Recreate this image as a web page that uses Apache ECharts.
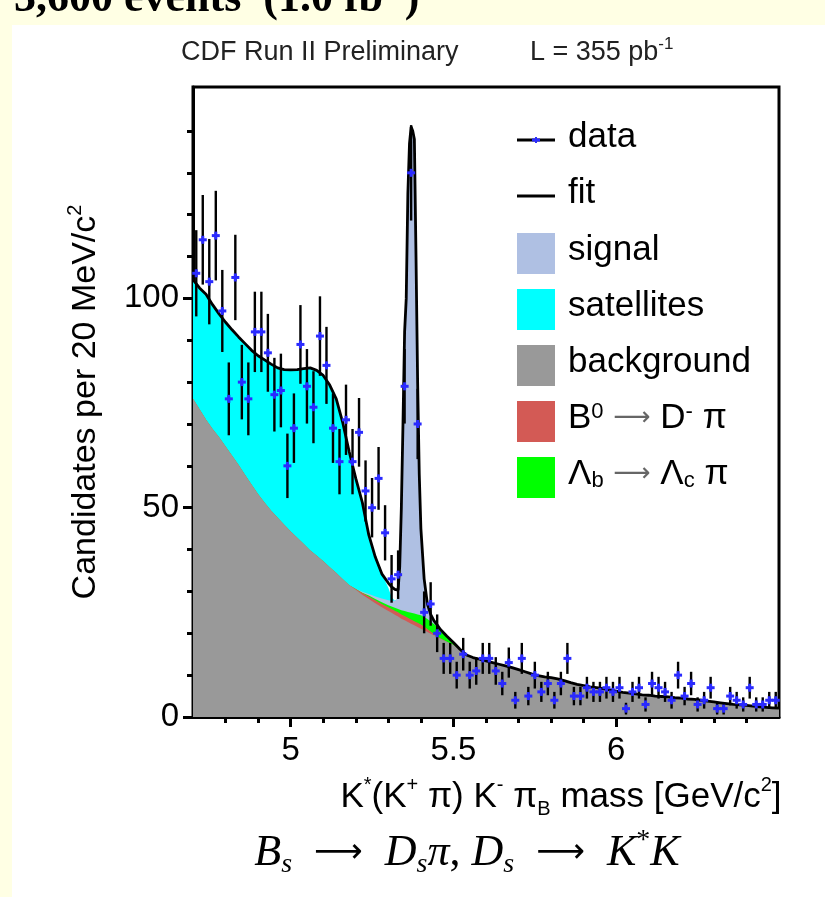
<!DOCTYPE html>
<html><head><meta charset="utf-8">
<script src="https://cdn.jsdelivr.net/npm/echarts@6/dist/echarts.min.js"></script>
<style>
html,body{margin:0;padding:0;background:#FFFFE4;}
#c{position:absolute;left:0;top:0;width:825px;height:897px;}
</style>
</head><body><div id="c"></div>
<script>
// ---- histogram binning of the data (20 MeV bins starting at 4.70 GeV) ----
const binLow = 4.70, binWidth = 0.02;
// data counts per bin
const dataCounts = [106,114,104,115,97,76,105,80,76,92,
  92,87,77,78,60,69,89,79,74,91,
  84,69,61,71,61,68,54,50,57,44,
  33,34,79,130,70,25,27,20,14,14,
  10,15,10,11,14,14,11,8,13,4,
  14,5,10,6,8,4,8,14,5,5,
  7,6,6,7,6,7,2,6,7,3,
  8,7,6,4,10,5,8,3,4,7,
  2,2,5,4,3,7,3,3,4,4];
// error bar half-lengths
const dataErrors = [10.3,10.7,10.2,10.7,9.8,8.7,10.2,8.9,8.7,9.6,
  9.6,9.3,8.8,8.8,7.7,8.3,9.4,8.9,8.6,9.5,
  9.2,8.3,7.8,8.4,7.8,8.2,7.3,7.1,7.5,6.6,
  5.7,5.8,8.9,11.4,8.4,5.0,5.2,4.5,3.7,3.7,
  3.2,3.9,3.2,3.3,3.7,3.7,3.3,2.8,3.6,2.0,
  3.7,2.2,3.2,2.4,2.8,2.0,2.8,3.7,2.2,2.2,
  2.6,2.4,2.4,2.6,2.4,2.6,1.4,2.4,2.6,1.7,
  2.8,2.6,2.4,2.0,3.2,2.2,2.8,1.7,2.0,2.6,
  1.4,1.4,2.2,2.0,1.7,2.6,1.7,1.7,2.0,2.0];

// ---- fit curve sample positions and components ----
const fitX = [4.70,4.72,4.74,4.76,4.78,4.80,4.82,4.84,4.86,4.88,
  4.90,4.92,4.94,4.96,4.98,5.00,5.02,5.04,5.06,5.08,
  5.10,5.12,5.14,5.16,5.18,5.20,5.22,5.24,5.26,5.28,
  5.30,5.31,5.32,5.33,5.335,5.34,5.345,5.35,5.355,5.36,
  5.365,5.37,5.375,5.38,5.385,5.39,5.395,5.40,5.41,5.42,
  5.43,5.44,5.45,5.46,5.48,5.50,5.52,5.54,5.56,5.58,
  5.60,5.62,5.64,5.66,5.68,5.70,5.72,5.74,5.76,5.78,
  5.80,5.82,5.84,5.86,5.88,5.90,5.92,5.94,5.96,5.98,
  6.00,6.02,6.04,6.06,6.08,6.10,6.12,6.14,6.16,6.18,
  6.20,6.22,6.24,6.26,6.28,6.30,6.32,6.34,6.36,6.38,
  6.40,6.42,6.44,6.46,6.48,6.50];
const fitTotal = [104.5,102.5,101,98.5,96.3,94.3,92.5,90.8,89.2,87.6,
  86.3,85.3,84.3,83.4,83,82.9,83,83.2,83.4,82.8,
  81.6,79.3,76,70.3,63.3,57,51.3,43.5,38.2,34.2,
  32,31.1,30.5,30.3,36,50,70,92,100,125,
  137,141,140,138,110,80,58,45,33,27,
  24.5,23,22,20.9,19.3,17.8,16.2,14.8,14.2,13.8,
  13.4,13.0,12.6,12.2,11.8,11.3,10.8,10.3,9.9,9.6,
  9.4,9.1,8.7,8.2,7.8,7.5,7.2,7.0,6.8,6.5,
  6.2,5.9,5.7,5.5,5.3,5.2,5.0,4.9,4.8,4.6,
  4.5,4.3,4.2,4.0,3.8,3.6,3.4,3.2,3.0,2.9,
  2.8,2.6,2.4,2.3,2.2,2.1];
const background = [76,73.5,71,68.8,66.8,64.6,62.4,60.2,57.8,55.5,
  53.2,51.2,49.3,47.6,45.9,44.3,42.8,41.3,39.8,38.5,
  37.2,35.8,34.4,32.9,31.5,30.4,29.2,28.2,27.2,26.2,
  25.3,24.9,24.4,24.0,23.8,23.5,23.3,23.1,22.9,22.7,
  22.5,22.3,22.1,21.9,21.7,21.5,21.3,21.1,20.7,20.3,
  19.9,19.5,19.1,18.7,18.0,17.2,16.0,14.8,14.2,13.8,
  13.4,13.0,12.6,12.2,11.8,11.3,10.8,10.3,9.9,9.6,
  9.4,9.1,8.7,8.2,7.8,7.5,7.2,7.0,6.8,6.5,
  6.2,5.9,5.7,5.5,5.3,5.2,5.0,4.9,4.8,4.6,
  4.5,4.3,4.2,4.0,3.8,3.6,3.4,3.2,3.0,2.9,
  2.8,2.6,2.4,2.3,2.2,2.1];
const b0DPi = [0,0,0,0,0,0,0,0,0,0,
  0,0,0,0,0,0,0,0,0,0,
  0,0,0,0,0,0.2,0.4,0.6,0.7,0.8,
  0.9,0.9,1.0,1.0,1.0,1.0,1.0,1.0,1.0,1.0,
  1.0,1.0,1.0,1.0,1.0,1.0,1.0,1.0,0.9,0.7,
  0.5,0.3,0.2,0.1,0,0,0,0,0,0,
  0,0,0,0,0,0,0,0,0,0,
  0,0,0,0,0,0,0,0,0,0,
  0,0,0,0,0,0,0,0,0,0,
  0,0,0,0,0,0,0,0,0,0,
  0,0,0,0,0,0];
const lambdaB = [0,0,0,0,0,0,0,0,0,0,
  0,0,0,0,0,0,0,0,0,0,
  0,0,0,0,0,0,0.1,0.2,0.3,0.4,
  0.5,0.6,0.7,0.8,0.9,1.0,1.1,1.2,1.3,1.4,
  1.5,1.6,1.7,1.8,1.9,2.0,2.1,2.2,2.3,2.4,
  2.4,2.4,2.3,2.1,1.3,0.6,0.2,0,0,0,
  0,0,0,0,0,0,0,0,0,0,
  0,0,0,0,0,0,0,0,0,0,
  0,0,0,0,0,0,0,0,0,0,
  0,0,0,0,0,0,0,0,0,0,
  0,0,0,0,0,0];
const signal = [0,0,0,0,0,0,0,0,0,0,
  0,0,0,0,0,0,0,0,0,0,
  0,0,0,0,0,0,0.2,0.4,0.6,0.9,
  1.2,1.4,1.7,2.5,10.3,24.5,44.6,66.7,74.8,99.9,
  112.0,116.1,115.2,113.3,85.4,55.5,33.6,20.7,9.1,3.6,
  1.7,0.8,0.4,0,0,0,0,0,0,0,
  0,0,0,0,0,0,0,0,0,0,
  0,0,0,0,0,0,0,0,0,0,
  0,0,0,0,0,0,0,0,0,0,
  0,0,0,0,0,0,0,0,0,0,
  0,0,0,0,0,0];
const satellites = [28.5,29,30,29.7,29.5,29.7,30.1,30.6,31.4,32.1,
  33.1,34.1,35,35.8,37.1,38.6,40.2,41.9,43.6,44.3,
  44.4,43.5,41.6,37.4,31.8,26.4,21.4,14.1,9.4,5.9,
  3.0,0.8,0,0,0,0,0,0,0,0,
  0,0,0,0,0,0,0,0,0,0,
  0,0,0,0,0,0,0,0,0,0,
  0,0,0,0,0,0,0,0,0,0,
  0,0,0,0,0,0,0,0,0,0,
  0,0,0,0,0,0,0,0,0,0,
  0,0,0,0,0,0,0,0,0,0,
  0,0,0,0,0,0];

// ---- axes ticks ----
const xMajorTicks = [5, 5.5, 6];
const xMinorTicks = [4.8,4.9,5.1,5.2,5.3,5.4,5.6,5.7,5.8,5.9,6.1,6.2,6.3,6.4];
const yMajorTicks = [0, 50, 100];
const yMinorTicks = [10,20,30,40,60,70,80,90,110,120,130,140];

const SANS = '"Liberation Sans", Arial, Helvetica, sans-serif';
const SERIF = '"Liberation Serif", "Times New Roman", serif';

const dataPoints = dataCounts.map((n, k) => [binLow + binWidth * (k + 0.5), n, dataErrors[k]]);

// stack components (bottom to top) by cumulative sums, drawn as filled areas from 0
const components = [
  {name: 'background', values: background, color: '#999999'},
  {name: 'B0', values: b0DPi, color: '#D35A55'},
  {name: 'Lb', values: lambdaB, color: '#00FF00'},
  {name: 'signal', values: signal, color: '#AFC0E3'},
  {name: 'satellites', values: satellites, color: '#00FFFF'}
];
let running = fitX.map(() => 0);
const cumulative = components.map(c => {
  running = running.map((v, i) => v + c.values[i]);
  return {name: c.name, color: c.color, values: running.slice()};
});
const areaSeries = cumulative.slice().reverse().map(c => ({
  name: c.name, type: 'line', data: fitX.map((x, i) => [x, c.values[i]]),
  symbol: 'none', silent: true, z: 2,
  lineStyle: {width: 0}, itemStyle: {color: c.color},
  areaStyle: {color: c.color, opacity: 1, origin: 'start'}
}));

const chart = echarts.init(document.getElementById('c'), null, {renderer: 'canvas'});

const supS = {fontFamily: SANS, fontSize: 20, lineHeight: 20, verticalAlign: 'top', color: '#000'};
const subS = {fontFamily: SANS, fontSize: 20, lineHeight: 22, verticalAlign: 'bottom', color: '#000'};

const legendRows = [
  {kind: 'data', y: 140, text: 'data'},
  {kind: 'fit', y: 196, text: 'fit'},
  {kind: 'box', y: 253, color: '#AFC0E3', text: 'signal'},
  {kind: 'box', y: 309, color: '#00FFFF', text: 'satellites'},
  {kind: 'box', y: 365, color: '#999999', text: 'background'},
  {kind: 'box', y: 421, color: '#D35A55', text: 'B{sup|0} {ar|⟶} D{sup|-} π'},
  {kind: 'box', y: 477, color: '#00FF00', text: 'Λ{sub|b} {ar|⟶} Λ{sub|c} π'}
];
const legendGraphics = [];
legendRows.forEach(r => {
  if (r.kind === 'box') {
    legendGraphics.push({type: 'rect', shape: {x: 517, y: r.y - 20, width: 38, height: 41}, style: {fill: r.color}});
  } else {
    legendGraphics.push({type: 'line', shape: {x1: 517, y1: r.y, x2: 555, y2: r.y}, style: {stroke: '#000', lineWidth: 3}});
    if (r.kind === 'data') {
      legendGraphics.push({type: 'line', shape: {x1: 532, y1: r.y, x2: 540, y2: r.y}, style: {stroke: '#2a2aff', lineWidth: 3}});
      legendGraphics.push({type: 'line', shape: {x1: 536, y1: r.y - 3, x2: 536, y2: r.y + 3}, style: {stroke: '#2a2aff', lineWidth: 2}});
    }
  }
  legendGraphics.push({type: 'text', x: 568, y: r.y - 3, style: {
    text: r.text, fill: '#000', fontFamily: SANS, fontSize: 35, verticalAlign: 'middle', align: 'left',
    rich: {
      sup: {fontFamily: SANS, fontSize: 22, lineHeight: 22, verticalAlign: 'top', fill: '#000'},
      sub: {fontFamily: SANS, fontSize: 22, lineHeight: 22, verticalAlign: 'bottom', fill: '#000'},
      ar: {fontFamily: '"DejaVu Sans", sans-serif', fontSize: 26, fill: '#666'}
    }
  }});
});

const option = {
  animation: false,
  backgroundColor: 'transparent',
  grid: {left: 193, right: 46, top: 87, bottom: 180, show: true, borderColor: '#000', borderWidth: 3,
         backgroundColor: 'transparent', outerBoundsMode: 'none'},
  xAxis: [
    {type: 'value', min: 4.7, max: 6.5, position: 'bottom',
     axisLine: {show: true, onZero: false, lineStyle: {color: '#000', width: 3}},
     axisTick: {show: true, customValues: xMajorTicks, length: 10, lineStyle: {color: '#000', width: 3}},
     axisLabel: {customValues: xMajorTicks, color: '#000', fontFamily: SANS, fontSize: 33, margin: 17,
                 formatter: v => String(v)},
     splitLine: {show: false},
     name: 'K{sup|*}(K{sup|+} π) K{sup|-} π{sub|B} mass [GeV/c{sup|2}]',
     nameLocation: 'middle', nameGap: 58,
     nameTextStyle: {color: '#000', fontFamily: SANS, fontSize: 35, lineHeight: 44, padding: [0, 0, 0, 150],
                     rich: {sup: supS, sub: subS}}},
    {type: 'value', min: 4.7, max: 6.5, position: 'bottom',
     axisLine: {show: false, onZero: false},
     axisTick: {show: true, customValues: xMinorTicks, length: 6, lineStyle: {color: '#000', width: 3}},
     axisLabel: {show: false}, splitLine: {show: false}}
  ],
  yAxis: [
    {type: 'value', min: 0, max: 150.5, position: 'left',
     axisLine: {show: true, onZero: false, lineStyle: {color: '#000', width: 3}},
     axisTick: {show: true, customValues: yMajorTicks, length: 10, lineStyle: {color: '#000', width: 3}},
     axisLabel: {customValues: yMajorTicks, color: '#000', fontFamily: SANS, fontSize: 33, margin: 14},
     splitLine: {show: false},
     name: 'Candidates per 20 MeV/c{sup|2}', nameLocation: 'middle', nameRotate: 90, nameGap: 86,
     nameTextStyle: {color: '#000', fontFamily: SANS, fontSize: 34, lineHeight: 42,
                     rich: {sup: supS}}},
    {type: 'value', min: 0, max: 150.5, position: 'left',
     axisLine: {show: false, onZero: false},
     axisTick: {show: true, customValues: yMinorTicks, length: 6, lineStyle: {color: '#000', width: 3}},
     axisLabel: {show: false}, splitLine: {show: false}}
  ],
  graphic: [
    {type: 'rect', z: -10, silent: true, shape: {x: 12, y: 25, width: 813, height: 872}, style: {fill: '#ffffff'}},
    {type: 'text', x: 14, y: 22, silent: true, style: {
      text: '3,600 events  (1.0 fb{sup|-1})', fill: '#000', fontFamily: SERIF, fontWeight: 'bold', fontSize: 44,
      verticalAlign: 'bottom', align: 'left',
      rich: {sup: {fontFamily: SERIF, fontWeight: 'bold', fontSize: 26, verticalAlign: 'top', lineHeight: 26, fill: '#000'}}}},
    {type: 'text', x: 181, y: 53, silent: true, style: {
      text: 'CDF Run II Preliminary', fill: '#222', fontFamily: SANS, fontSize: 27, verticalAlign: 'middle', align: 'left'}},
    {type: 'text', x: 530, y: 53, silent: true, style: {
      text: 'L = 355 pb{sup|-1}', fill: '#222', fontFamily: SANS, fontSize: 27, verticalAlign: 'middle', align: 'left', lineHeight: 34,
      rich: {sup: {fontFamily: SANS, fontSize: 17, lineHeight: 17, verticalAlign: 'top', fill: '#222'}}}},
    {type: 'text', x: 467, y: 853, silent: true, style: {
      text: '{i|B}{s|s}  {a|⟶}  {i|D}{s|s}{i|π}, {i|D}{s|s}  {a|⟶}  {i|K}{p|*}{i|K}', fill: '#000', fontFamily: SERIF, fontSize: 44,
      verticalAlign: 'middle', align: 'center', lineHeight: 52,
      rich: {
        i: {fontFamily: SERIF, fontStyle: 'italic', fontSize: 44, lineHeight: 52, fill: '#000'},
        s: {fontFamily: SERIF, fontStyle: 'italic', fontSize: 28, lineHeight: 28, verticalAlign: 'bottom', fill: '#000'},
        p: {fontFamily: SERIF, fontSize: 28, lineHeight: 28, verticalAlign: 'top', fill: '#000'},
        a: {fontFamily: '"DejaVu Sans", sans-serif', fontSize: 34, fill: '#000'}
      }}}
  ].concat(legendGraphics),
  series: areaSeries.concat([
    {name: 'fit', type: 'line', data: fitX.map((x, i) => [x, fitTotal[i]]), symbol: 'none', silent: true, z: 3,
     lineStyle: {color: '#000', width: 2.8}, itemStyle: {color: '#000'}},
    {name: 'data', type: 'custom', z: 4, silent: true, data: dataPoints,
     encode: {x: 0, y: 1},
     renderItem: (params, api) => {
       const x = api.value(0), y = api.value(1), e = api.value(2);
       const c = api.coord([x, y]);
       const t = api.coord([x, y + e]);
       const b = api.coord([x, Math.max(0, y - e)]);
       return {type: 'group', children: [
         {type: 'line', shape: {x1: c[0], y1: t[1], x2: c[0], y2: b[1]}, style: {stroke: '#000', lineWidth: 2.4}},
         {type: 'line', shape: {x1: c[0] - 4, y1: c[1], x2: c[0] + 4, y2: c[1]}, style: {stroke: '#2a2aff', lineWidth: 3}},
         {type: 'line', shape: {x1: c[0], y1: c[1] - 4, x2: c[0], y2: c[1] + 4}, style: {stroke: '#2a2aff', lineWidth: 3}}
       ]};
     }}
  ])
};
chart.setOption(option);
</script>
</body></html>
